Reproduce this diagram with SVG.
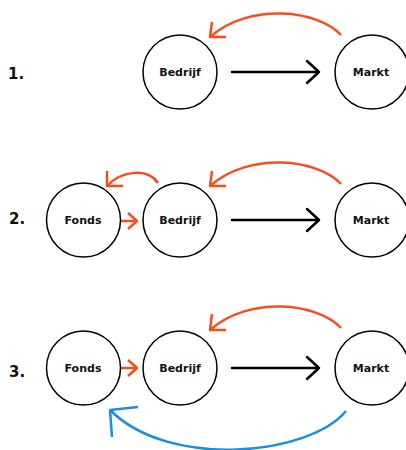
<svg xmlns="http://www.w3.org/2000/svg" width="406" height="450" viewBox="0 0 406 450">
<style>
.node{fill:#fff;stroke:#000;stroke-width:1.5}
.lbl{font-family:"DejaVu Sans",sans-serif;font-weight:bold;font-size:11px;text-anchor:middle;fill:#111}
.num{font-family:"DejaVu Sans",sans-serif;font-weight:bold;font-size:15px;fill:#111}
.blk{fill:none;stroke:#000;stroke-width:2.5;stroke-linecap:round;stroke-linejoin:round}
.org{fill:none;stroke:#fc4c1c;stroke-width:2.5;stroke-linejoin:round}
.blu{fill:none;stroke:#1a8fdc;stroke-width:2.5;stroke-linejoin:round}
</style>
<rect width="406" height="450" fill="#fff"/>
<text class="num" x="8" y="79">1.</text>
<text class="num" x="9" y="224">2.</text>
<text class="num" x="9" y="377">3.</text>
<g id="connectors">
  <!-- row 1 -->
  <path class="blk" d="M232,72 H319 M307,61 L319,72 L307,83"/>
  <path class="org" d="M341,35 C318,10 250,2 210,37"/>
  <path class="org" d="M212,22 L210,37 L226,37"/>
  <!-- row 2 -->
  <path class="blk" d="M232,220 H319 M307,209 L319,220 L307,231"/>
  <path class="org" d="M341,184 C318,159 250,151 210,186"/>
  <path class="org" d="M212,171 L210,186 L226,186"/>
  <path class="org" d="M158,183 C148,168 122,170 107,186"/>
  <path class="org" d="M107,171 L107,186 L123,186"/>
  <path class="org" d="M107,221 H137"/>
  <path class="org" d="M128,213 L137,221 L128,229"/>
  <!-- row 3 -->
  <path class="blk" d="M232,368 H319 M307,357 L319,368 L307,379"/>
  <path class="org" d="M341,328 C318,303 250,295 210,330"/>
  <path class="org" d="M212,314 L210,330 L226,330"/>
  <path class="org" d="M107,368 H137"/>
  <path class="org" d="M128,360 L137,368 L128,376"/>
  <path class="blu" d="M346,411 C310,455 170,470 110,410"/>
  <path class="blu" d="M138,407 L110,410 L112,437"/>
</g>
<g id="bedrijf1"><circle class="node" cx="180" cy="72" r="37"/><text class="lbl" x="180" y="76">Bedrijf</text></g>
<g id="markt1"><circle class="node" cx="372" cy="72" r="37"/><text class="lbl" x="371" y="76">Markt</text></g>
<g id="fonds2"><circle class="node" cx="83.5" cy="220" r="37"/><text class="lbl" x="83" y="224">Fonds</text></g>
<g id="bedrijf2"><circle class="node" cx="180" cy="220" r="37"/><text class="lbl" x="180" y="224">Bedrijf</text></g>
<g id="markt2"><circle class="node" cx="372" cy="220" r="37"/><text class="lbl" x="371" y="224">Markt</text></g>
<g id="fonds3"><circle class="node" cx="83.5" cy="368" r="37"/><text class="lbl" x="83" y="372">Fonds</text></g>
<g id="bedrijf3"><circle class="node" cx="180" cy="368" r="37"/><text class="lbl" x="180" y="372">Bedrijf</text></g>
<g id="markt3"><circle class="node" cx="372" cy="368" r="37"/><text class="lbl" x="371" y="372">Markt</text></g>
</svg>
